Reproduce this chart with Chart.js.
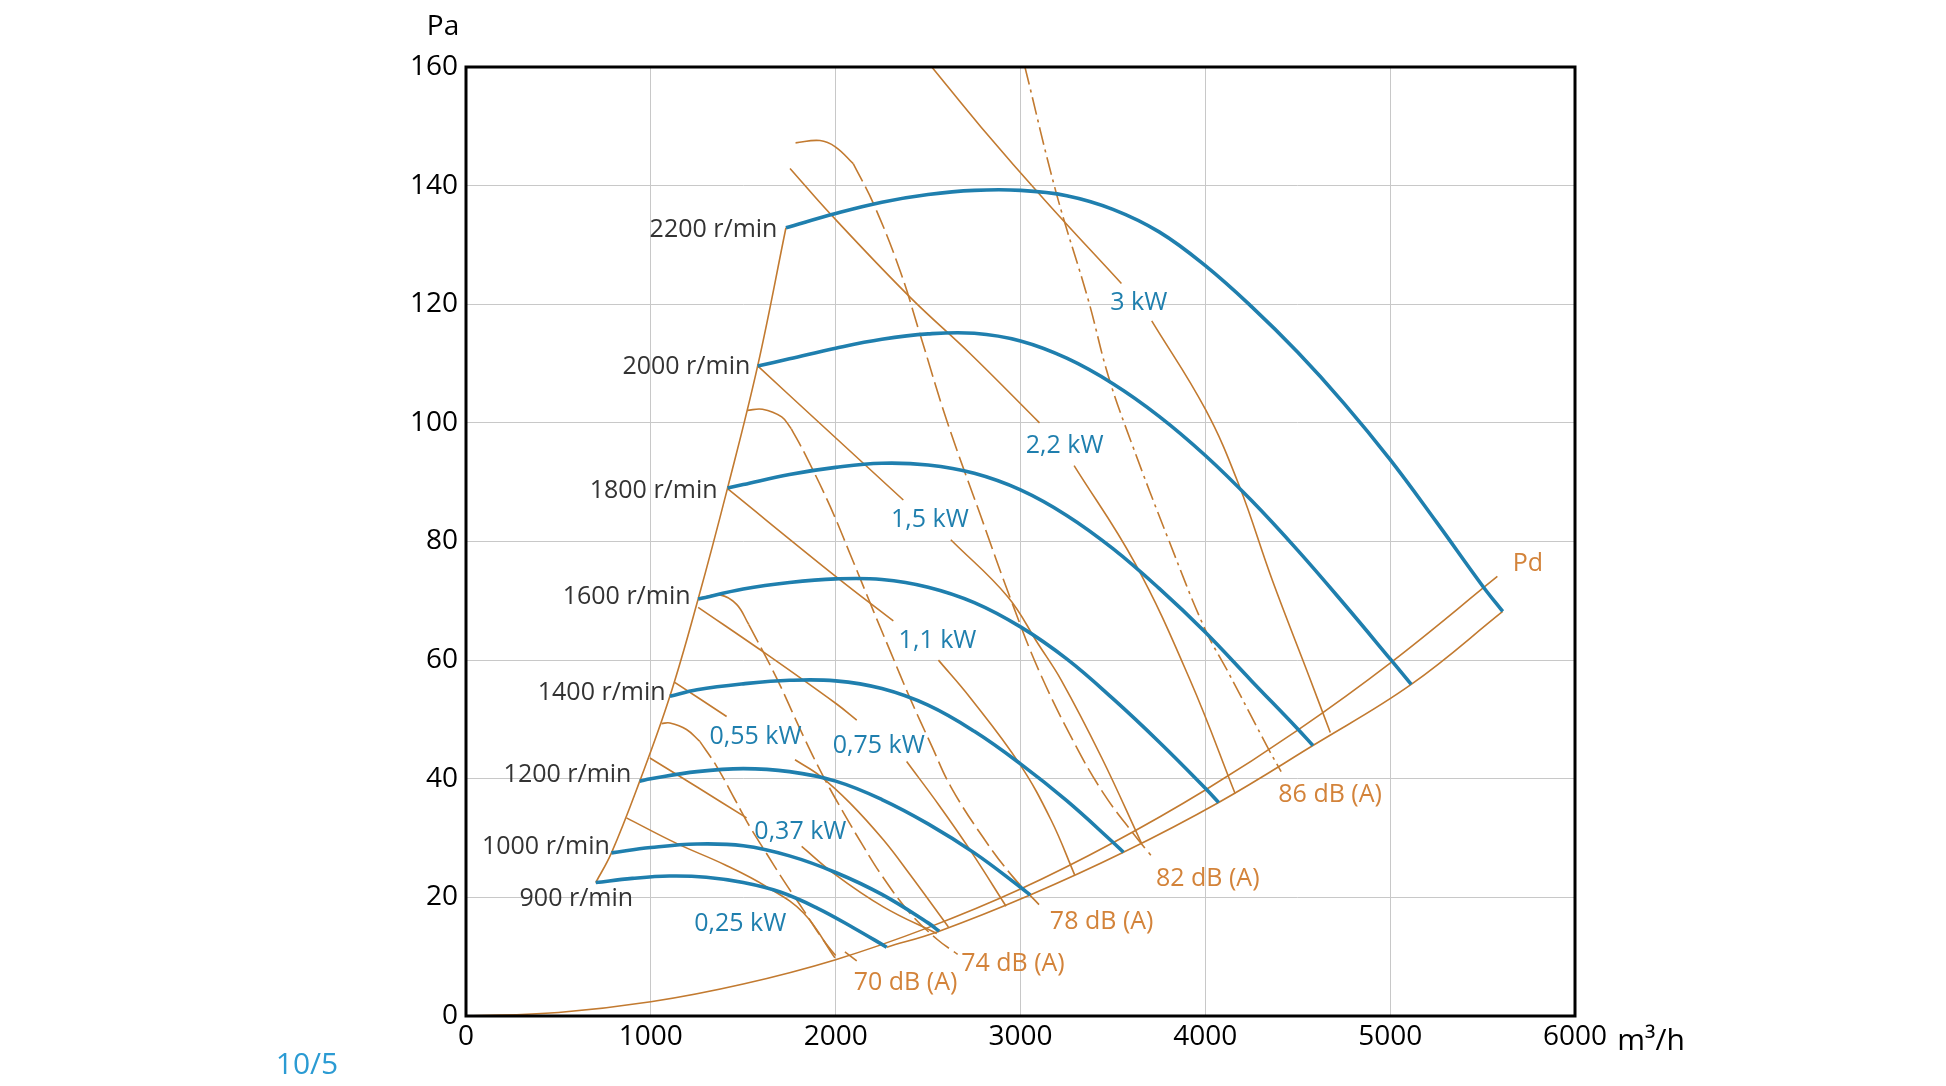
<!DOCTYPE html>
<html>
<head>
<meta charset="utf-8">
<script src="https://cdn.jsdelivr.net/npm/chart.js@4.4.1/dist/chart.umd.min.js"></script>
<style>
  html, body { margin: 0; padding: 0; background: #fff; }
  #wrap { width: 1946px; height: 1086px; position: relative; }
</style>
</head>
<body>
<div id="wrap"><canvas id="grafico"></canvas></div>
<script>
// ======== EIXOS ========
const xTicks = [0, 1000, 2000, 3000, 4000, 5000, 6000];
const yTicks = [0, 20, 40, 60, 80, 100, 120, 140, 160];

// ======== CURVAS DE ROTAÇÃO (m3/h, Pa) ========
const speedNames = ["900 r/min", "1000 r/min", "1200 r/min", "1400 r/min", "1600 r/min", "1800 r/min", "2000 r/min", "2200 r/min"];
const speedLabelAt = [[904, 19.8], [778, 28.5], [895, 40.6], [1080, 54.5], [1215, 70.7], [1361, 88.6], [1538, 109.4], [1685, 132.5]];
const n900 = [[702, 22.5], [900, 23.2], [1100, 23.6], [1300, 23.4], [1500, 22.5], [1700, 20.9], [1900, 18.2], [2100, 14.8], [2276, 11.6]];
const n1000 = [[787, 27.5], [1000, 28.4], [1250, 29.0], [1500, 28.7], [1750, 27.0], [2000, 24.2], [2250, 20.5], [2500, 15.7], [2560, 14.3]];
const n1200 = [[940, 39.6], [1000, 40.0], [1250, 41.2], [1500, 41.7], [1750, 41.2], [2000, 39.6], [2250, 36.5], [2500, 32.4], [2750, 27.5], [3000, 21.7], [3052, 20.4]];
const n1400 = [[1103, 53.9], [1250, 55.0], [1500, 56.0], [1750, 56.6], [2000, 56.5], [2250, 55.2], [2500, 52.4], [2750, 48.0], [3000, 42.5], [3250, 36.3], [3500, 29.3], [3557, 27.6]];
const n1600 = [[1256, 70.3], [1500, 72.0], [1750, 73.1], [2000, 73.7], [2250, 73.6], [2500, 72.3], [2750, 69.7], [3000, 65.6], [3250, 60.2], [3500, 53.5], [3750, 46.2], [4000, 38.4], [4072, 36.0]];
const n1800 = [[1415, 89.0], [1500, 89.6], [1750, 91.3], [2000, 92.5], [2250, 93.2], [2500, 92.9], [2750, 91.5], [3000, 88.7], [3250, 84.4], [3500, 78.8], [3750, 72.1], [4000, 64.7], [4250, 56.5], [4500, 48.4], [4582, 45.6]];
const n2000 = [[1578, 109.6], [1750, 110.8], [2000, 112.6], [2250, 114.1], [2500, 115.0], [2750, 115.1], [3000, 113.8], [3250, 110.9], [3500, 106.6], [3750, 101.1], [4000, 94.5], [4250, 86.9], [4500, 78.5], [4750, 69.5], [5000, 60.2], [5114, 55.9]];
const n2200 = [[1731, 132.9], [2000, 135.3], [2250, 137.2], [2500, 138.5], [2750, 139.2], [3000, 139.2], [3250, 138.3], [3500, 136.0], [3750, 132.2], [4000, 126.5], [4250, 119.6], [4500, 111.9], [4750, 103.3], [5000, 93.8], [5250, 83.3], [5500, 72.5], [5609, 68.2]];

// ======== LIMITES E PRESSÃO DINÂMICA ========
const leftEdge = [[702, 22.5], [787, 27.5], [940, 39.6], [1103, 53.9], [1256, 70.3], [1415, 89.0], [1578, 109.6], [1731, 132.9]];
const rightEdge = [[2276, 11.6], [2560, 14.3], [3052, 20.4], [3557, 27.6], [4072, 36.0], [4582, 45.6], [5114, 55.9], [5609, 68.2]];
const pd = [[0, 0], [500, 0.6], [1000, 2.4], [1500, 5.4], [2000, 9.5], [2500, 14.9], [3000, 21.4], [3500, 29.2], [4000, 38.1], [4500, 48.2], [5000, 59.5], [5580, 74.1]];

// ======== LINHAS DE POTÊNCIA ========
const kwNames = ["0,25 kW", "0,37 kW", "0,55 kW", "0,75 kW", "1,1 kW", "1,5 kW", "2,2 kW", "3 kW"];
const kwLabelAt = [[1484, 15.5], [1809, 31.1], [1566, 47.1], [2233, 45.6], [2551, 63.2], [2510, 83.6], [3239, 96.2], [3640, 120.2]];
const p025 = [[868, 33.4], [1139, 29.1], [1400, 25.5], [1626, 21.8], [1825, 17.4], [1996, 9.8]];
const p037a = [[995, 43.5], [1250, 38.6], [1518, 33.4]];
const p037b = [[1816, 28.6], [1987, 24.1], [2258, 18.4], [2547, 13.9]];
const p055a = [[1127, 56.3], [1410, 50.5]];
const p055b = [[1780, 43.2], [1915, 40.5], [2078, 35.9], [2258, 29.7], [2403, 23.8], [2610, 15.0]];
const p075a = [[1256, 68.9], [1626, 61.0], [2005, 52.6], [2114, 49.9]];
const p075b = [[2384, 42.9], [2560, 35.5], [2727, 28.0], [2922, 18.5]];
const p11a = [[1415, 88.9], [2005, 74.0], [2312, 66.6]];
const p11b = [[2556, 60.0], [2727, 53.7], [2995, 42.5], [3166, 33.0], [3293, 23.8]];
const p15a = [[1578, 109.6], [1898, 100.4], [2366, 87.0]];
const p15b = [[2623, 80.3], [2931, 70.7], [3094, 62.8], [3221, 56.6], [3440, 43.5], [3655, 29.1]];
const p22a = [[1753, 142.9], [1978, 135.0], [2402, 121.2], [2727, 111.7], [3103, 100.0]];
const p22b = [[3290, 92.8], [3620, 76.3], [3918, 56.6], [4161, 37.5]];
const p3a = [[2520, 160], [2786, 149.9], [3133, 137.5], [3546, 123.5]];
const p3b = [[3710, 117.2], [4000, 102.3], [4181, 89.6], [4362, 73.5], [4562, 57.2], [4676, 47.8]];

// ======== LINHAS DE RUÍDO ========
const dbNames = ["70 dB (A)", "74 dB (A)", "78 dB (A)", "82 dB (A)", "86 dB (A)"];
const dbLabelAt = [[2378, 5.6], [2959, 8.8], [3439, 15.9], [4013, 23.2], [4675, 37.3]];
const d70hook = [[1058, 49.3], [1103, 49.4], [1193, 48.3], [1265, 46.3]];
const d70 = [[1265, 46.3], [1356, 42.1], [1455, 36.5], [1536, 31.9], [1626, 27.4], [1717, 22.9], [1825, 17.9], [1933, 12.8], [2000, 10.2]];
const d70tick = [[2050, 10.8], [2114, 9.3]];
const d74hook = [[1270, 70.5], [1374, 71.0], [1464, 69.4], [1530, 66.0]];
const d74 = [[1530, 66.0], [1680, 57.0], [1825, 47.2], [1933, 40.4], [2042, 34.3], [2150, 28.6], [2258, 23.3], [2403, 17.3], [2550, 12.9], [2660, 10.4]];
const d78hook = [[1521, 102.1], [1604, 102.3], [1708, 101.0], [1760, 99.0]];
const d78 = [[1760, 99.0], [1833, 94.8], [1969, 86.0], [2078, 77.9], [2204, 68.3], [2294, 61.6], [2402, 53.6], [2520, 45.5], [2624, 38.6], [2800, 30.0], [2958, 23.5], [3112, 18.4]];
const d82hook = [[1783, 147.2], [1915, 147.6], [2000, 146.5], [2095, 143.7]];
const d82 = [[2095, 143.7], [2204, 137.0], [2348, 125.7], [2456, 115.0], [2601, 100.4], [2786, 84.2], [2949, 70.1], [3103, 58.0], [3300, 45.5], [3450, 37.5], [3609, 30.8], [3705, 27.1]];
const d86 = [[3024, 160], [3194, 138.7], [3366, 120.8], [3475, 107.9], [3601, 96.6], [3801, 80.3], [4000, 65.1], [4118, 58.3], [4342, 45.0], [4410, 41.2]];

// ======== CORES ========
const azul = "#1f7fae";
const laranja = "#c27a30";
const laranjaTexto = "#d3833a";

function linha(pts, cor, largura, tracejado, ordem) {
    return {
        data: pts.map(p => ({ x: p[0], y: p[1] })),
        showLine: true,
        borderColor: cor,
        borderWidth: largura,
        borderDash: tracejado || [],
        pointRadius: 0,
        fill: false,
        tension: 0.4,
        order: ordem
    };
}

const datasets = [];
[n900, n1000, n1200, n1400, n1600, n1800, n2000, n2200].forEach(c => datasets.push(linha(c, azul, 3.6, null, 0)));
[leftEdge, rightEdge, pd].forEach(c => datasets.push(linha(c, laranja, 1.6, null, 1)));
[p025, p037a, p037b, p055a, p055b, p075a, p075b, p11a, p11b, p15a, p15b, p22a, p22b, p3a, p3b]
    .forEach(c => datasets.push(linha(c, laranja, 1.6, null, 1)));
[d70hook, d74hook, d78hook, d82hook, d70tick].forEach(c => datasets.push(linha(c, laranja, 1.6, null, 1)));
[d70, d74, d78, d82].forEach(c => datasets.push(linha(c, laranja, 1.6, [20, 6], 1)));
datasets.push(linha(d86, laranja, 1.6, [18, 5, 3, 5], 1));

// ======== TEXTOS E MOLDURA ========
const textos = {
    id: "textos",
    afterDatasetsDraw(chart) {
        const { ctx, chartArea, scales: { x, y } } = chart;
        ctx.save();
        ctx.textBaseline = "middle";

        ctx.font = "25px 'Open Sans'";
        ctx.fillStyle = "#333333";
        ctx.textAlign = "right";
        speedNames.forEach((t, i) => ctx.fillText(t, x.getPixelForValue(speedLabelAt[i][0]), y.getPixelForValue(speedLabelAt[i][1])));

        ctx.textAlign = "center";
        ctx.fillStyle = azul;
        kwNames.forEach((t, i) => ctx.fillText(t, x.getPixelForValue(kwLabelAt[i][0]), y.getPixelForValue(kwLabelAt[i][1])));

        ctx.fillStyle = laranjaTexto;
        dbNames.forEach((t, i) => ctx.fillText(t, x.getPixelForValue(dbLabelAt[i][0]), y.getPixelForValue(dbLabelAt[i][1])));
        ctx.fillText("Pd", x.getPixelForValue(5745), y.getPixelForValue(76.3));

        // moldura
        ctx.strokeStyle = "#000";
        ctx.lineWidth = 3;
        ctx.strokeRect(chartArea.left, chartArea.top, chartArea.right - chartArea.left, chartArea.bottom - chartArea.top);

        // unidades
        ctx.fillStyle = "#000";
        ctx.font = "28px 'Open Sans'";
        ctx.fillText("Pa", chartArea.left - 23, chartArea.top - 40);
        ctx.font = "30px 'Open Sans'";
        ctx.fillText("m³/h", chartArea.right + 76, chartArea.bottom + 25);
        ctx.fillStyle = "#2b9bd3";
        ctx.fillText("10/5", 307, 1065);
        ctx.restore();
    }
};

Chart.defaults.font.family = "'Open Sans', sans-serif";

new Chart(document.getElementById("grafico"), {
    type: "scatter",
    data: { datasets: datasets },
    options: {
        responsive: true,
        maintainAspectRatio: false,
        animation: false,
        layout: { padding: { left: 370, right: 371, top: 67, bottom: 20 } },
        plugins: { legend: { display: false }, tooltip: { enabled: false } },
        scales: {
            x: {
                type: "linear",
                min: xTicks[0],
                max: xTicks[xTicks.length - 1],
                afterBuildTicks: s => { s.ticks = xTicks.map(v => ({ value: v })); },
                afterFit: s => { s.height = 50; },
                grid: { color: "#c8c8c8", lineWidth: 1, drawTicks: false },
                border: { display: false },
                ticks: { color: "#000", font: { size: 28 }, padding: 4, callback: v => String(v) }
            },
            y: {
                type: "linear",
                min: yTicks[0],
                max: yTicks[yTicks.length - 1],
                afterBuildTicks: s => { s.ticks = yTicks.map(v => ({ value: v })); },
                afterFit: s => { s.width = 96; },
                grid: { color: "#c8c8c8", lineWidth: 1, drawTicks: false },
                border: { display: false },
                ticks: { color: "#000", font: { size: 28 }, padding: 8, callback: v => String(v) }
            }
        }
    },
    plugins: [textos]
});
</script>
</body>
</html>
